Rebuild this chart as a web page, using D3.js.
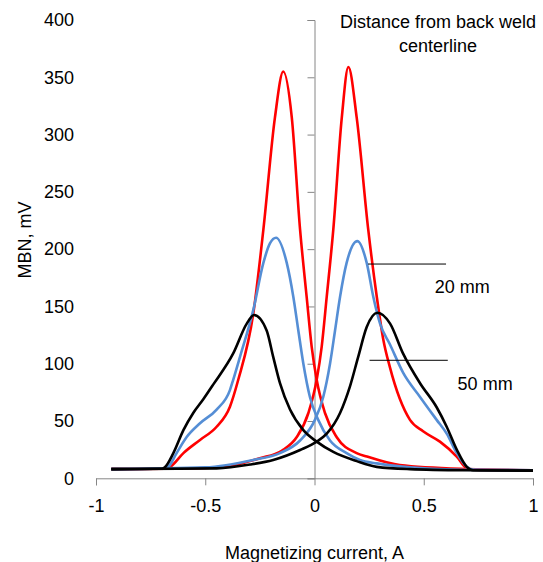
<!DOCTYPE html>
<html>
<head>
	<meta http-equiv="Content-Type" content="text/html;charset=utf-8">
	<title>MBN vs magnetizing current</title>
	<script src="https://d3js.org/d3.v7.min.js"></script>
	<style type="text/css">
		body { margin: 0; background: #fff; }
		text { font-family: "Liberation Sans", Arial, sans-serif; font-size: 18px; fill: #000; }
		.axis path, .axis line { stroke: #868686; stroke-width: 1px; }
		.curve { fill: none; stroke-width: 2.6px; }
	</style>
</head>
<body>
	<svg width="543" height="562"></svg>

	<script type="text/javascript">
		// values: [current A, MBN mV]
		var redLeft = [[-0.93,8],[-0.69,8.5],[-0.661,10],[-0.6,22],[-0.524,33.5],[-0.448,45],[-0.387,62.5],
			[-0.349,86],[-0.28,144],[-0.234,217],[-0.181,315],[-0.143,355],[-0.104,315],[-0.066,217],
			[-0.036,158.5],[-0.013,115],[0.01,86],[0.048,57],[0.101,36],[0.193,22],[0.24,19],[0.39,11.5],
			[0.7,8],[1,7]];
		var redRight = [[-0.93,8],[-0.5,9],[-0.372,11.5],[-0.25,17.5],[-0.15,24],[-0.081,36],[-0.028,57],
			[0.01,86],[0.033,115],[0.056,158.5],[0.086,217],[0.125,315],[0.155,359],[0.193,315],[0.246,217],
			[0.285,158.5],[0.315,121],[0.345,97],[0.437,51],[0.497,41],[0.574,32],[0.651,19],[0.697,8.7],
			[0.73,7.5],[1,7]];
		var blueLeft = [[-0.93,8],[-0.69,8.5],[-0.669,10],[-0.631,22],[-0.585,36],[-0.524,48],[-0.448,60],
			[-0.387,77],[-0.372,86],[-0.341,106],[-0.28,147],[-0.234,188],[-0.204,205],[-0.176,210],
			[-0.127,188],[-0.097,158.5],[-0.074,129],[-0.051,100],[-0.021,71],[0.017,51],[0.071,33],
			[0.147,22],[0.208,16],[0.285,13],[0.437,9.5],[0.666,7.5],[1,7]];
		var blueRight = [[-0.93,8],[-0.5,9.5],[-0.28,16],[-0.158,22],[-0.066,33],[0.002,51],[0.04,71],
			[0.071,100],[0.094,129],[0.117,158.5],[0.147,188],[0.196,207],[0.239,188],[0.269,158.5],
			[0.3,135],[0.345,117],[0.406,92],[0.483,71],[0.559,51],[0.605,39],[0.651,22],[0.697,10],
			[0.73,7.5],[1,7]];
		var blackLeft = [[-0.93,8],[-0.7,8.3],[-0.685,9.6],[-0.646,22],[-0.6,42],[-0.555,57],[-0.509,69],
			[-0.463,82],[-0.372,109],[-0.31,135],[-0.277,142.5],[-0.219,129],[-0.189,106],[-0.158,83],
			[-0.112,60],[-0.051,42],[0.01,32],[0.086,23],[0.193,15],[0.285,10],[0.437,8],[0.7,7],[1,6.7]];
		var blackRight = [[-0.93,8],[-0.448,8.7],[-0.295,12],[-0.189,16],[-0.066,24.7],[0.01,32],[0.056,39],
			[0.117,57],[0.162,80],[0.2,106],[0.239,132],[0.288,144.5],[0.346,135],[0.405,109],[0.483,83],
			[0.559,62],[0.605,45],[0.651,25],[0.697,10],[0.726,7],[1,6.7]];

		var xTicks = [-1, -0.5, 0, 0.5, 1];
		var yTicks = [0, 50, 100, 150, 200, 250, 300, 350, 400];

		var series = [
			{ data: redLeft, color: "#ff0000" },
			{ data: redRight, color: "#ff0000" },
			{ data: blueLeft, color: "#558ed5" },
			{ data: blueRight, color: "#558ed5" },
			{ data: blackLeft, color: "#000000" },
			{ data: blackRight, color: "#000000" }
		];

		var svg = d3.select("svg");
		var x = d3.scaleLinear().domain([-1, 1]).range([96, 533]);
		var y = d3.scaleLinear().domain([0, 400]).range([478.3, 20]);

		// x axis sits on y = 0
		var xAxis = svg.append("g").attr("class", "axis")
			.attr("transform", "translate(0," + y(0) + ")")
			.call(d3.axisBottom(x).tickValues(xTicks).tickSize(7).tickPadding(14)
				.tickFormat(function (d) { return String(d); }));
		xAxis.selectAll("text").attr("font-size", null).attr("font-family", null);

		// y axis line at x = 0, labels placed low on the left
		var yAxis = svg.append("g").attr("class", "axis")
			.attr("transform", "translate(" + x(0) + ",0)")
			.call(d3.axisLeft(y).tickValues(yTicks).tickSize(7).tickSizeOuter(7));
		yAxis.selectAll("text").remove();
		svg.append("g").selectAll("text").data(yTicks).enter().append("text")
			.attr("x", 74).attr("y", function (d) { return y(d); })
			.attr("dy", "0.35em").attr("text-anchor", "end")
			.text(function (d) { return d; });

		var line = d3.line()
			.x(function (d) { return x(d[0]); })
			.y(function (d) { return y(d[1]); })
			.curve(d3.curveMonotoneX);

		svg.selectAll("path.curve").data(series).enter().append("path")
			.attr("class", "curve")
			.attr("stroke", function (s) { return s.color; })
			.attr("d", function (s) { return line(s.data); });

		// annotations
		svg.append("line").attr("x1", x(0.245)).attr("x2", x(0.602))
			.attr("y1", y(187)).attr("y2", y(187)).attr("stroke", "#000").attr("stroke-width", 1);
		svg.append("line").attr("x1", x(0.252)).attr("x2", x(0.61))
			.attr("y1", y(103)).attr("y2", y(103)).attr("stroke", "#000").attr("stroke-width", 1);
		svg.append("text").attr("x", x(0.55)).attr("y", y(162)).text("20 mm");
		svg.append("text").attr("x", x(0.655)).attr("y", y(77)).text("50 mm");
		svg.append("text").attr("x", x(0.565)).attr("y", 28).attr("text-anchor", "middle")
			.text("Distance from back weld");
		svg.append("text").attr("x", x(0.565)).attr("y", 52).attr("text-anchor", "middle")
			.text("centerline");

		// axis titles
		svg.append("text").attr("x", x(0)).attr("y", 559).attr("text-anchor", "middle")
			.text("Magnetizing current, A");
		svg.append("text").attr("transform", "translate(31,240) rotate(-90)")
			.attr("text-anchor", "middle").text("MBN, mV");
	</script>
</body>
</html>
